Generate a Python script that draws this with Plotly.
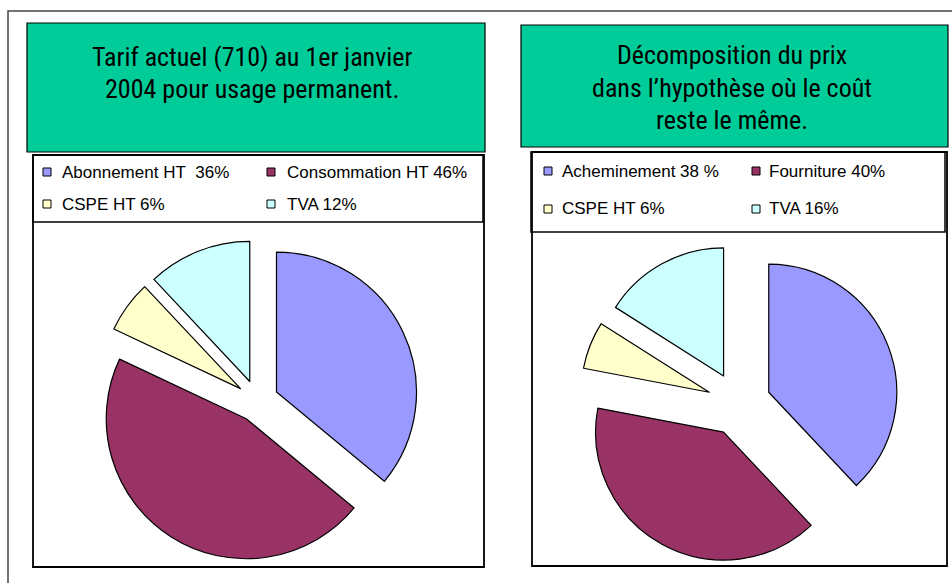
import plotly.graph_objects as go

W, H = 952, 583

# ---- data ----
left_labels = ["Abonnement HT  36%", "Consommation HT 46%", "CSPE HT 6%", "TVA 12%"]
left_values = [36, 46, 6, 12]
right_labels = ["Acheminement 38 %", "Fourniture 40%", "CSPE HT 6%", "TVA 16%"]
right_values = [38, 40, 6, 16]
slice_colors = ["#9999FF", "#993366", "#FFFFCC", "#CCFFFF"]
left_title = ["Tarif actuel (710) au 1er janvier", "2004 pour usage permanent."]
right_title = ["Décomposition du prix", "dans l\u2019hypothèse où le coût", "reste le même."]


def fx(x):
    return x / W


def fy(y):
    return 1 - y / H


fig = go.Figure()


def add_pie(labels, values, cx, cy, half, pull):
    fig.add_trace(go.Pie(
        labels=labels, values=values, sort=False, direction="clockwise", rotation=0,
        pull=[pull] * len(values), textinfo="none", showlegend=False,
        marker=dict(colors=slice_colors, line=dict(color="black", width=1.2)),
        domain=dict(x=[fx(cx - half), fx(cx + half)], y=[fy(cy + half), fy(cy - half)]),
    ))


add_pie(left_labels, left_values, 257.5, 401, 161, 0.15)
add_pie(right_labels, right_values, 739, 404, 160, 0.25)

shapes = []


def rect(x0, y0, x1, y1, fill="rgba(0,0,0,0)", lw=1.5, layer="below", color="black"):
    shapes.append(dict(type="rect", xref="paper", yref="paper",
                       x0=fx(x0), x1=fx(x1), y0=fy(y1), y1=fy(y0),
                       fillcolor=fill, line=dict(color=color, width=lw), layer=layer))


# outer frame
rect(8, 11, 990, 620, lw=1.5, color="#444444")
# header boxes
rect(27, 23, 485, 152, fill="#00CC99", lw=1.2, layer="above")
rect(521, 25, 948, 147, fill="#00CC99", lw=1.2, layer="above")
# chart areas
rect(33, 155, 484, 567, fill="white", lw=1.8)
rect(532, 152, 947, 566, fill="white", lw=1.8)
# legend boxes
rect(33, 155, 483, 222, lw=1.5)
rect(531, 152, 945, 232, lw=1.5)

annotations = []
HEAD_FONT = "Roboto Condensed, Liberation Sans Narrow, Arial Narrow, sans-serif"


def head(lines, cx, baselines, size=26):
    for t, b in zip(lines, baselines):
        annotations.append(dict(xref="paper", yref="paper", x=fx(cx), y=fy(b - 0.34 * size),
                                text=t, showarrow=False, xanchor="center", yanchor="middle",
                                font=dict(family=HEAD_FONT, size=size, color="black")))


head(left_title, 252, [66, 98])
head(right_title, 732, [64, 97, 129])

LEG_FONT = "Liberation Sans, Arial, sans-serif"


def legend(labels, sq_x, txt_x, rows):
    for i, lab in enumerate(labels):
        r, c = divmod(i, 2)
        yc = rows[r]
        x0 = sq_x[c]
        rect(x0, yc - 4, x0 + 8, yc + 4, fill=slice_colors[i], lw=1, layer="above")
        annotations.append(dict(xref="paper", yref="paper", x=fx(txt_x[c]), y=fy(yc),
                                text=lab.replace("  ", "\u00a0 "), showarrow=False,
                                xanchor="left", yanchor="middle",
                                font=dict(family=LEG_FONT, size=17, color="black")))


legend(left_labels, [43, 267], [60, 285], [172, 204])
legend(right_labels, [544, 752], [560, 767], [171, 209])

fig.update_layout(
    width=W, height=H, autosize=False,
    margin=dict(l=0, r=0, t=0, b=0),
    paper_bgcolor="white", plot_bgcolor="white",
    shapes=shapes, annotations=annotations, showlegend=False,
)

fig.write_html("out.html", config={"displayModeBar": False},
               post_script="document.body.style.margin='0';document.body.style.overflow='hidden';")
